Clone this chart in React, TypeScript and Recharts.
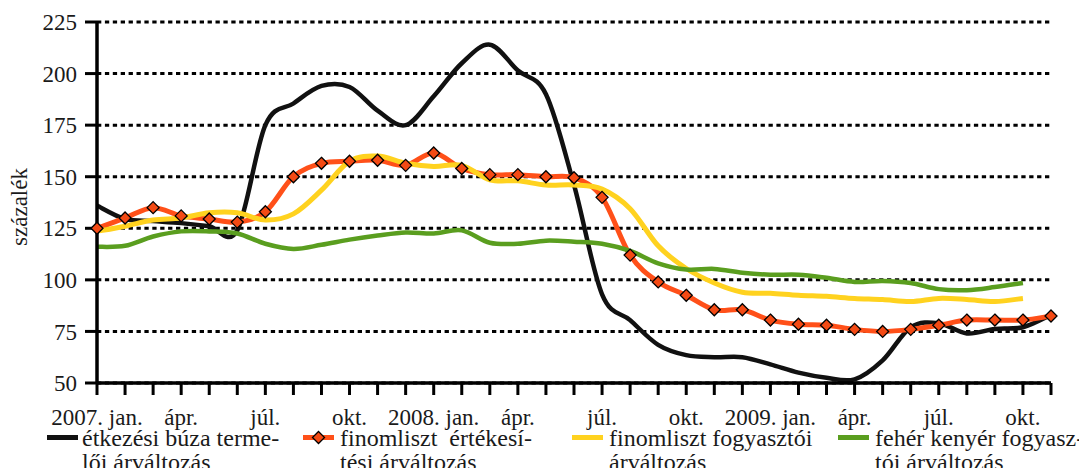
import { LineChart, Line, XAxis, YAxis, CartesianGrid } from "recharts"

const months = [
  "2007. jan.", "2007. febr.", "2007. márc.", "2007. ápr.", "2007. máj.", "2007. jún.",
  "2007. júl.", "2007. aug.", "2007. szept.", "2007. okt.", "2007. nov.", "2007. dec.",
  "2008. jan.", "2008. febr.", "2008. márc.", "2008. ápr.", "2008. máj.", "2008. jún.",
  "2008. júl.", "2008. aug.", "2008. szept.", "2008. okt.", "2008. nov.", "2008. dec.",
  "2009. jan.", "2009. febr.", "2009. márc.", "2009. ápr.", "2009. máj.", "2009. jún.",
  "2009. júl.", "2009. aug.", "2009. szept.", "2009. okt.", "2009. nov."
]

const tickLabels = [
  "2007. jan.", "", "", "ápr.", "", "", "júl.", "", "", "okt.", "", "",
  "2008. jan.", "", "", "ápr.", "", "", "júl.", "", "", "okt.", "", "",
  "2009. jan.", "", "", "ápr.", "", "", "júl.", "", "", "okt.", ""
]

const yTicks = [50, 75, 100, 125, 150, 175, 200, 225]

// étkezési búza termelői árváltozás
const buzaTermeloi = [
  136, 129.5, 128.5, 127.5, 126, 124, 175, 185.5, 194, 193.5, 182, 175,
  189, 205, 214, 201.5, 190, 146, 93, 80.5, 68.5, 63.5, 62.5, 62.5,
  59, 55, 52.5, 51.8, 61, 77, 79, 74, 76.2, 77, 83
]

// finomliszt értékesítési árváltozás
const lisztErtekesitesi = [
  125, 130, 135, 131, 129.5, 128, 133, 150, 156.5, 157.5, 158, 155.5,
  161.5, 154, 151, 151, 150, 149.5, 140, 112, 99, 92.5, 85.5, 85.5,
  80.5, 78.5, 78, 76, 75, 76, 78, 80.5, 80.5, 80.5, 82.5
]

// finomliszt fogyasztói árváltozás
const lisztFogyasztoi = [
  123.5, 126, 129, 130, 132.5, 132.5, 129, 132, 143.5, 157.5, 160, 156.5,
  155, 155.5, 148.5, 148, 146, 146, 144, 134.5, 116.5, 105.5, 98.5, 94,
  93.5, 92.5, 92, 91, 90.5, 89.5, 91, 90.5, 89.5, 91, null
]

// fehér kenyér fogyasztói árváltozás
const kenyerFogyasztoi = [
  116, 116.5, 121, 123.5, 123.5, 122.5, 117.5, 115, 117, 119.5, 121.5, 123,
  122.5, 124, 118, 117.5, 119, 118.5, 117.5, 114, 108, 105, 105.3, 103.5,
  102.5, 102.5, 101, 99, 99.5, 98.5, 95.5, 95, 96.5, 98.5, null
]

const legendLines = [
  ["étkezési búza terme-", "lői árváltozás"],
  ["finomliszt  értékesí-", "tési árváltozás"],
  ["finomliszt fogyasztói", "árváltozás"],
  ["fehér kenyér fogyasz-", "tói árváltozás"]
]

const colors = ["#111111", "#ff5019", "#ffd21f", "#5a9e1f"]
const markerFill = "#f44a14"
const font = "Liberation Serif, Times New Roman, serif"

const data = months.map((month, i) => ({
  month,
  buza: buzaTermeloi[i],
  ertekesitesi: lisztErtekesitesi[i],
  fogyasztoi: lisztFogyasztoi[i],
  kenyer: kenyerFogyasztoi[i]
}))

// Excel-style smoothing (Catmull-Rom as cubic bezier)
function excelSmooth(context: any) {
  let pts: number[][] = []
  return {
    areaStart() {},
    areaEnd() {},
    lineStart() {
      pts = []
    },
    point(x: number, y: number) {
      pts.push([+x, +y])
    },
    lineEnd() {
      if (pts.length === 0) return
      context.moveTo(pts[0][0], pts[0][1])
      if (pts.length === 1) {
        context.lineTo(pts[0][0], pts[0][1])
        return
      }
      for (let i = 0; i < pts.length - 1; i++) {
        const p0 = pts[i - 1] || pts[i]
        const p1 = pts[i]
        const p2 = pts[i + 1]
        const p3 = pts[i + 2] || p2
        context.bezierCurveTo(
          p1[0] + (p2[0] - p0[0]) / 6,
          p1[1] + (p2[1] - p0[1]) / 6,
          p2[0] - (p3[0] - p1[0]) / 6,
          p2[1] - (p3[1] - p1[1]) / 6,
          p2[0],
          p2[1]
        )
      }
    }
  }
}

function Diamond({ cx, cy, r = 6 }: { cx: number; cy: number; r?: number }) {
  return (
    <polygon
      points={`${cx},${cy - r} ${cx + r},${cy} ${cx},${cy + r} ${cx - r},${cy}`}
      fill={markerFill}
      stroke="#000"
      strokeWidth={1.3}
    />
  )
}

const renderDiamond = (props: any) => {
  const { cx, cy, index } = props
  if (cx == null || cy == null) return <g key={`dm-${index}`} />
  return (
    <g key={`dm-${index}`}>
      <Diamond cx={cx} cy={cy} />
    </g>
  )
}

const legendLeft = [47, 303, 572, 838]

function ChartLegend() {
  return (
    <div style={{ position: "absolute", left: 0, top: 426 }}>
      {legendLines.map((lines, i) => (
        <div
          key={i}
          style={{ position: "absolute", left: legendLeft[i], top: 0, width: 270 }}
        >
          <svg
            width={32}
            height={24}
            style={{ position: "absolute", left: 0, top: 0 }}
          >
            <line
              x1={0}
              x2={31}
              y1={11.5}
              y2={11.5}
              stroke={colors[i]}
              strokeWidth={5}
            />
            {i === 1 && <Diamond cx={15.5} cy={11.5} />}
          </svg>
          <div
            style={{
              position: "absolute",
              left: i === 0 ? 35 : 37,
              top: 0,
              fontSize: 24,
              lineHeight: "24px",
              color: "#1a1a1a",
              whiteSpace: "pre"
            }}
          >
            {lines.map((t, j) => (
              <div key={j}>{t}</div>
            ))}
          </div>
        </div>
      ))}
    </div>
  )
}

export default function App() {
  return (
    <div
      style={{
        position: "relative",
        margin: -8,
        width: 1087,
        height: 476,
        overflow: "hidden",
        background: "#fff",
        fontFamily: font
      }}
    >
      <LineChart
        width={1087}
        height={476}
        data={data}
        margin={{ top: 22, right: 36, bottom: 53, left: 0 }}
      >
        <CartesianGrid
          vertical={false}
          stroke="#000"
          strokeWidth={3}
          strokeDasharray="4.3 3.6"
        />

        <XAxis
          dataKey="month"
          height={40}
          interval={0}
          tickSize={12}
          tickMargin={14}
          tickFormatter={(_v: string, i: number) => tickLabels[i]}
          axisLine={{ stroke: "#000", strokeWidth: 3.5 }}
          tickLine={{ stroke: "#000", strokeWidth: 3 }}
          tick={{ fill: "#1a1a1a", fontSize: 23, fontFamily: font }}
        />

        <YAxis
          width={97}
          domain={[50, 225]}
          ticks={yTicks}
          interval={0}
          tickSize={12}
          tickMargin={8}
          allowDataOverflow
          axisLine={{ stroke: "#000", strokeWidth: 3.5 }}
          tickLine={{ stroke: "#000", strokeWidth: 3 }}
          tick={{ fill: "#1a1a1a", fontSize: 23, fontFamily: font }}
          label={{
            content: () => (
              <text
                x={27}
                y={207}
                transform="rotate(-90 27 207)"
                textAnchor="middle"
                fontSize={23}
                style={{ fontFamily: font }}
                fill="#1a1a1a"
              >
                százalék
              </text>
            )
          }}
        />

        <Line
          dataKey="buza"
          name="étkezési búza termelői árváltozás"
          type={excelSmooth as any}
          stroke={colors[0]}
          strokeWidth={4.5}
          dot={false}
          activeDot={false}
          isAnimationActive={false}
        />
        <Line
          dataKey="ertekesitesi"
          name="finomliszt értékesítési árváltozás"
          type={excelSmooth as any}
          stroke={colors[1]}
          strokeWidth={5}
          dot={false}
          activeDot={false}
          isAnimationActive={false}
        />
        <Line
          dataKey="fogyasztoi"
          name="finomliszt fogyasztói árváltozás"
          type={excelSmooth as any}
          stroke={colors[2]}
          strokeWidth={5}
          dot={false}
          activeDot={false}
          isAnimationActive={false}
        />
        <Line
          dataKey="kenyer"
          name="fehér kenyér fogyasztói árváltozás"
          type={excelSmooth as any}
          stroke={colors[3]}
          strokeWidth={4.5}
          dot={false}
          activeDot={false}
          isAnimationActive={false}
        />
        {/* markers drawn last, on top of every line */}
        <Line
          dataKey="ertekesitesi"
          legendType="none"
          type={excelSmooth as any}
          stroke="none"
          dot={renderDiamond}
          activeDot={false}
          isAnimationActive={false}
        />
      </LineChart>

      <ChartLegend />
    </div>
  )
}
